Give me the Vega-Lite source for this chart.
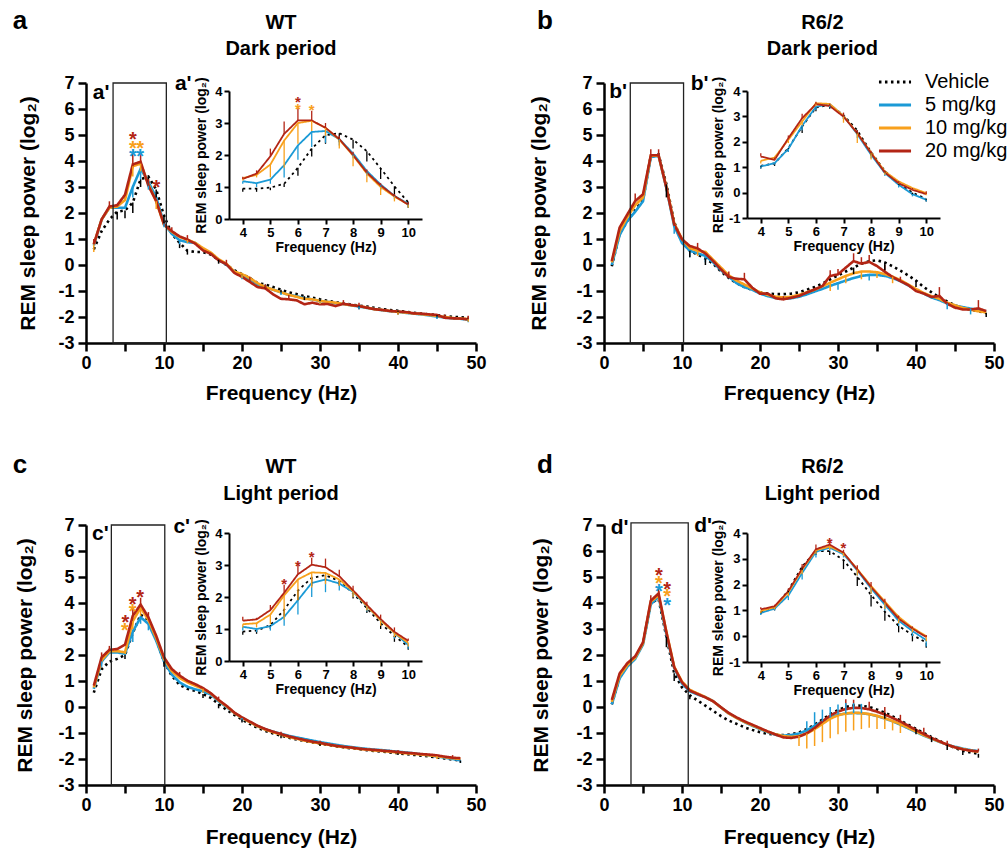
{
"$schema":"https://vega.github.io/schema/vega-lite/v6.json",
"padding":{"left":12,"top":7,"right":5,"bottom":5},
"config":{"font":"Liberation Sans","view":{"stroke":null},
 "axis":{"grid":false,"domainColor":"#000","tickColor":"#000","labelColor":"#000","titleColor":"#000","labelFontWeight":"bold","titleFontWeight":"bold","labelFont":"Liberation Sans","titleFont":"Liberation Sans","labelOverlap":false},
 "legend":{"labelFont":"Liberation Sans"}},
"datasets":{
"aM":[{"f":1,"V":0.6,"A":0.75,"B":0.8,"C":0.8},{"f":2,"V":1.3,"A":1.75,"B":1.75,"C":1.75},{"f":3,"V":1.75,"A":2.2,"B":2.2,"C":2.25},{"f":4,"V":2.05,"A":2.2,"B":2.25,"C":2.3},{"f":5,"V":2.1,"A":2.2,"B":2.5,"C":2.7},{"f":6,"V":2.4,"A":3.0,"B":3.8,"C":3.87},{"f":7,"V":3.3,"A":3.7,"B":3.9,"C":3.97},{"f":8,"V":3.4,"A":3.2,"B":3.1,"C":3.05},{"f":9,"V":2.9,"A":2.6,"B":2.45,"C":2.46},{"f":10,"V":1.9,"A":1.6,"B":1.55,"C":1.56},{"f":11,"V":1.2,"A":1.2,"B":1.28,"C":1.3},{"f":12,"V":0.85,"A":0.95,"B":1.08,"C":1.1},{"f":13,"V":0.55,"A":0.88,"B":0.97,"C":0.98},{"f":14,"V":0.5,"A":0.85,"B":0.85,"C":0.82},{"f":15,"V":0.5,"A":0.6,"B":0.65,"C":0.56},{"f":16,"V":0.4,"A":0.45,"B":0.48,"C":0.43},{"f":17,"V":0.2,"A":0.2,"B":0.22,"C":0.18},{"f":18,"V":0.0,"A":0.02,"B":0.05,"C":0.03},{"f":19,"V":-0.2,"A":-0.25,"B":-0.25,"C":-0.3},{"f":20,"V":-0.35,"A":-0.4,"B":-0.35,"C":-0.46},{"f":21,"V":-0.5,"A":-0.55,"B":-0.5,"C":-0.65},{"f":22,"V":-0.7,"A":-0.75,"B":-0.7,"C":-0.85},{"f":23,"V":-0.75,"A":-0.85,"B":-0.85,"C":-0.9},{"f":24,"V":-0.85,"A":-0.95,"B":-0.95,"C":-1.13},{"f":25,"V":-0.95,"A":-1.05,"B":-1.05,"C":-1.3},{"f":26,"V":-1.05,"A":-1.15,"B":-1.15,"C":-1.32},{"f":27,"V":-1.12,"A":-1.2,"B":-1.22,"C":-1.36},{"f":28,"V":-1.2,"A":-1.28,"B":-1.3,"C":-1.51},{"f":29,"V":-1.25,"A":-1.32,"B":-1.32,"C":-1.45},{"f":30,"V":-1.32,"A":-1.38,"B":-1.38,"C":-1.51},{"f":31,"V":-1.38,"A":-1.42,"B":-1.42,"C":-1.5},{"f":32,"V":-1.43,"A":-1.47,"B":-1.45,"C":-1.58},{"f":33,"V":-1.48,"A":-1.5,"B":-1.5,"C":-1.49},{"f":34,"V":-1.52,"A":-1.55,"B":-1.55,"C":-1.54},{"f":35,"V":-1.56,"A":-1.6,"B":-1.58,"C":-1.58},{"f":36,"V":-1.6,"A":-1.65,"B":-1.64,"C":-1.64},{"f":37,"V":-1.65,"A":-1.7,"B":-1.7,"C":-1.7},{"f":38,"V":-1.7,"A":-1.74,"B":-1.73,"C":-1.73},{"f":39,"V":-1.73,"A":-1.78,"B":-1.77,"C":-1.77},{"f":40,"V":-1.76,"A":-1.8,"B":-1.8,"C":-1.79},{"f":41,"V":-1.8,"A":-1.84,"B":-1.83,"C":-1.81},{"f":42,"V":-1.84,"A":-1.87,"B":-1.86,"C":-1.86},{"f":43,"V":-1.87,"A":-1.9,"B":-1.89,"C":-1.87},{"f":44,"V":-1.9,"A":-1.94,"B":-1.92,"C":-1.9},{"f":45,"V":-1.93,"A":-1.98,"B":-1.96,"C":-1.92},{"f":46,"V":-1.96,"A":-2.02,"B":-2.0,"C":-2.03},{"f":47,"V":-1.99,"A":-2.05,"B":-2.04,"C":-2.05},{"f":48,"V":-2.01,"A":-2.07,"B":-2.06,"C":-2.06},{"f":49,"V":-2.03,"A":-2.1,"B":-2.08,"C":-2.09}],
"bM":[{"f":1,"V":-0.05,"A":0.0,"B":0.1,"C":0.15},{"f":2,"V":1.2,"A":1.15,"B":1.3,"C":1.44},{"f":3,"V":1.7,"A":1.7,"B":1.85,"C":1.95},{"f":4,"V":2.1,"A":2.05,"B":2.3,"C":2.46},{"f":5,"V":2.5,"A":2.45,"B":2.6,"C":2.72},{"f":6,"V":4.2,"A":4.15,"B":4.2,"C":4.22},{"f":7,"V":4.25,"A":4.2,"B":4.2,"C":4.22},{"f":8,"V":3.1,"A":2.95,"B":3.0,"C":2.97},{"f":9,"V":1.65,"A":1.5,"B":1.6,"C":1.56},{"f":10,"V":0.9,"A":0.85,"B":1.0,"C":0.99},{"f":11,"V":0.55,"A":0.55,"B":0.65,"C":0.73},{"f":12,"V":0.4,"A":0.45,"B":0.55,"C":0.64},{"f":13,"V":0.25,"A":0.35,"B":0.5,"C":0.44},{"f":14,"V":0.05,"A":0.1,"B":0.2,"C":0.15},{"f":15,"V":-0.25,"A":-0.2,"B":-0.1,"C":-0.17},{"f":16,"V":-0.5,"A":-0.45,"B":-0.4,"C":-0.46},{"f":17,"V":-0.7,"A":-0.7,"B":-0.6,"C":-0.53},{"f":18,"V":-0.85,"A":-0.85,"B":-0.75,"C":-0.55},{"f":19,"V":-0.95,"A":-0.95,"B":-0.9,"C":-0.87},{"f":20,"V":-1.05,"A":-1.1,"B":-1.05,"C":-1.1},{"f":21,"V":-1.1,"A":-1.2,"B":-1.15,"C":-1.1},{"f":22,"V":-1.12,"A":-1.27,"B":-1.22,"C":-1.28},{"f":23,"V":-1.12,"A":-1.3,"B":-1.25,"C":-1.32},{"f":24,"V":-1.1,"A":-1.28,"B":-1.22,"C":-1.26},{"f":25,"V":-1.05,"A":-1.22,"B":-1.15,"C":-1.19},{"f":26,"V":-0.95,"A":-1.13,"B":-1.05,"C":-1.06},{"f":27,"V":-0.85,"A":-1.02,"B":-0.95,"C":-0.94},{"f":28,"V":-0.72,"A":-0.92,"B":-0.82,"C":-0.81},{"f":29,"V":-0.55,"A":-0.8,"B":-0.68,"C":-0.42},{"f":30,"V":-0.4,"A":-0.7,"B":-0.55,"C":-0.36},{"f":31,"V":-0.25,"A":-0.6,"B":-0.42,"C":-0.1},{"f":32,"V":-0.1,"A":-0.5,"B":-0.32,"C":0.15},{"f":33,"V":0.05,"A":-0.42,"B":-0.25,"C":0.05},{"f":34,"V":0.15,"A":-0.38,"B":-0.25,"C":0.12},{"f":35,"V":0.18,"A":-0.38,"B":-0.28,"C":-0.04},{"f":36,"V":0.1,"A":-0.42,"B":-0.35,"C":-0.26},{"f":37,"V":-0.05,"A":-0.5,"B":-0.45,"C":-0.46},{"f":38,"V":-0.22,"A":-0.62,"B":-0.58,"C":-0.62},{"f":39,"V":-0.4,"A":-0.78,"B":-0.75,"C":-0.77},{"f":40,"V":-0.6,"A":-0.95,"B":-0.92,"C":-1.0},{"f":41,"V":-0.85,"A":-1.1,"B":-1.08,"C":-1.1},{"f":42,"V":-1.05,"A":-1.25,"B":-1.2,"C":-1.23},{"f":43,"V":-1.25,"A":-1.35,"B":-1.3,"C":-1.19},{"f":44,"V":-1.4,"A":-1.48,"B":-1.45,"C":-1.49},{"f":45,"V":-1.55,"A":-1.56,"B":-1.55,"C":-1.64},{"f":46,"V":-1.65,"A":-1.62,"B":-1.65,"C":-1.71},{"f":47,"V":-1.72,"A":-1.68,"B":-1.72,"C":-1.71},{"f":48,"V":-1.78,"A":-1.73,"B":-1.78,"C":-1.67},{"f":49,"V":-1.85,"A":-1.78,"B":-1.82,"C":-1.77}],
"cM":[{"f":1,"V":0.55,"A":0.7,"B":0.75,"C":0.82},{"f":2,"V":1.45,"A":1.75,"B":1.8,"C":1.91},{"f":3,"V":1.75,"A":2.1,"B":2.15,"C":2.2},{"f":4,"V":1.85,"A":2.1,"B":2.15,"C":2.23},{"f":5,"V":2.0,"A":2.05,"B":2.1,"C":2.4},{"f":6,"V":2.85,"A":2.9,"B":3.3,"C":3.51},{"f":7,"V":3.55,"A":3.45,"B":3.82,"C":3.94},{"f":8,"V":3.35,"A":3.2,"B":3.35,"C":3.45},{"f":9,"V":2.6,"A":2.55,"B":2.65,"C":2.74},{"f":10,"V":1.75,"A":1.75,"B":1.85,"C":1.91},{"f":11,"V":1.2,"A":1.25,"B":1.38,"C":1.46},{"f":12,"V":0.85,"A":0.95,"B":1.12,"C":1.21},{"f":13,"V":0.7,"A":0.78,"B":0.95,"C":1.01},{"f":14,"V":0.62,"A":0.68,"B":0.82,"C":0.88},{"f":15,"V":0.5,"A":0.6,"B":0.7,"C":0.73},{"f":16,"V":0.35,"A":0.48,"B":0.52,"C":0.53},{"f":17,"V":0.12,"A":0.22,"B":0.25,"C":0.27},{"f":18,"V":-0.1,"A":0.0,"B":0.03,"C":0.05},{"f":19,"V":-0.3,"A":-0.22,"B":-0.22,"C":-0.21},{"f":20,"V":-0.48,"A":-0.42,"B":-0.42,"C":-0.4},{"f":21,"V":-0.65,"A":-0.58,"B":-0.58,"C":-0.56},{"f":22,"V":-0.8,"A":-0.74,"B":-0.74,"C":-0.72},{"f":23,"V":-0.92,"A":-0.86,"B":-0.87,"C":-0.85},{"f":24,"V":-1.02,"A":-0.95,"B":-0.97,"C":-0.95},{"f":25,"V":-1.1,"A":-1.03,"B":-1.06,"C":-1.04},{"f":26,"V":-1.18,"A":-1.11,"B":-1.15,"C":-1.13},{"f":27,"V":-1.25,"A":-1.17,"B":-1.22,"C":-1.2},{"f":28,"V":-1.3,"A":-1.23,"B":-1.29,"C":-1.27},{"f":29,"V":-1.36,"A":-1.29,"B":-1.35,"C":-1.33},{"f":30,"V":-1.41,"A":-1.35,"B":-1.4,"C":-1.38},{"f":31,"V":-1.46,"A":-1.4,"B":-1.45,"C":-1.44},{"f":32,"V":-1.51,"A":-1.45,"B":-1.5,"C":-1.49},{"f":33,"V":-1.55,"A":-1.5,"B":-1.54,"C":-1.53},{"f":34,"V":-1.59,"A":-1.54,"B":-1.57,"C":-1.56},{"f":35,"V":-1.62,"A":-1.58,"B":-1.61,"C":-1.6},{"f":36,"V":-1.66,"A":-1.61,"B":-1.64,"C":-1.63},{"f":37,"V":-1.69,"A":-1.64,"B":-1.67,"C":-1.65},{"f":38,"V":-1.72,"A":-1.66,"B":-1.69,"C":-1.68},{"f":39,"V":-1.75,"A":-1.69,"B":-1.72,"C":-1.7},{"f":40,"V":-1.78,"A":-1.72,"B":-1.75,"C":-1.73},{"f":41,"V":-1.81,"A":-1.75,"B":-1.78,"C":-1.76},{"f":42,"V":-1.84,"A":-1.78,"B":-1.8,"C":-1.78},{"f":43,"V":-1.87,"A":-1.82,"B":-1.83,"C":-1.81},{"f":44,"V":-1.9,"A":-1.86,"B":-1.86,"C":-1.83},{"f":45,"V":-1.94,"A":-1.9,"B":-1.89,"C":-1.86},{"f":46,"V":-1.98,"A":-1.95,"B":-1.93,"C":-1.91},{"f":47,"V":-2.02,"A":-2.0,"B":-1.97,"C":-1.95},{"f":48,"V":-2.06,"A":-2.05,"B":-2.0,"C":-1.97}],
"dM":[{"f":1,"V":0.1,"A":0.1,"B":0.2,"C":0.27},{"f":2,"V":1.15,"A":1.1,"B":1.2,"C":1.29},{"f":3,"V":1.6,"A":1.55,"B":1.62,"C":1.69},{"f":4,"V":1.9,"A":1.85,"B":1.9,"C":1.95},{"f":5,"V":2.45,"A":2.4,"B":2.45,"C":2.49},{"f":6,"V":4.0,"A":3.95,"B":4.05,"C":4.09},{"f":7,"V":4.15,"A":4.25,"B":4.3,"C":4.37},{"f":8,"V":2.7,"A":2.8,"B":2.9,"C":2.87},{"f":9,"V":1.3,"A":1.5,"B":1.55,"C":1.53},{"f":10,"V":0.75,"A":0.9,"B":0.98,"C":0.95},{"f":11,"V":0.45,"A":0.6,"B":0.66,"C":0.63},{"f":12,"V":0.25,"A":0.48,"B":0.52,"C":0.5},{"f":13,"V":0.05,"A":0.38,"B":0.38,"C":0.37},{"f":14,"V":-0.15,"A":0.22,"B":0.22,"C":0.22},{"f":15,"V":-0.35,"A":-0.02,"B":-0.02,"C":-0.01},{"f":16,"V":-0.52,"A":-0.25,"B":-0.25,"C":-0.23},{"f":17,"V":-0.65,"A":-0.42,"B":-0.42,"C":-0.4},{"f":18,"V":-0.78,"A":-0.58,"B":-0.57,"C":-0.55},{"f":19,"V":-0.88,"A":-0.72,"B":-0.7,"C":-0.68},{"f":20,"V":-0.97,"A":-0.85,"B":-0.83,"C":-0.81},{"f":21,"V":-1.03,"A":-0.97,"B":-0.95,"C":-0.94},{"f":22,"V":-1.07,"A":-1.07,"B":-1.05,"C":-1.06},{"f":23,"V":-1.08,"A":-1.1,"B":-1.12,"C":-1.17},{"f":24,"V":-1.05,"A":-1.08,"B":-1.15,"C":-1.19},{"f":25,"V":-0.98,"A":-1.02,"B":-1.12,"C":-1.14},{"f":26,"V":-0.85,"A":-0.9,"B":-1.02,"C":-1.01},{"f":27,"V":-0.68,"A":-0.72,"B":-0.85,"C":-0.81},{"f":28,"V":-0.48,"A":-0.55,"B":-0.65,"C":-0.55},{"f":29,"V":-0.28,"A":-0.4,"B":-0.45,"C":-0.33},{"f":30,"V":-0.12,"A":-0.3,"B":-0.32,"C":-0.17},{"f":31,"V":0.0,"A":-0.25,"B":-0.25,"C":-0.08},{"f":32,"V":0.06,"A":-0.23,"B":-0.22,"C":-0.03},{"f":33,"V":0.05,"A":-0.24,"B":-0.23,"C":-0.04},{"f":34,"V":0.0,"A":-0.28,"B":-0.27,"C":-0.09},{"f":35,"V":-0.1,"A":-0.35,"B":-0.34,"C":-0.18},{"f":36,"V":-0.22,"A":-0.44,"B":-0.43,"C":-0.29},{"f":37,"V":-0.36,"A":-0.55,"B":-0.54,"C":-0.42},{"f":38,"V":-0.52,"A":-0.68,"B":-0.66,"C":-0.56},{"f":39,"V":-0.68,"A":-0.82,"B":-0.8,"C":-0.72},{"f":40,"V":-0.84,"A":-0.96,"B":-0.94,"C":-0.88},{"f":41,"V":-1.0,"A":-1.1,"B":-1.08,"C":-1.04},{"f":42,"V":-1.16,"A":-1.22,"B":-1.21,"C":-1.19},{"f":43,"V":-1.3,"A":-1.34,"B":-1.33,"C":-1.32},{"f":44,"V":-1.45,"A":-1.45,"B":-1.45,"C":-1.45},{"f":45,"V":-1.58,"A":-1.53,"B":-1.55,"C":-1.55},{"f":46,"V":-1.68,"A":-1.6,"B":-1.62,"C":-1.63},{"f":47,"V":-1.75,"A":-1.66,"B":-1.68,"C":-1.68},{"f":48,"V":-1.8,"A":-1.7,"B":-1.72,"C":-1.71}],
"aE":[{"f":4,"g":"V","p":2.05,"e":1.75},{"f":5,"g":"V","p":2.1,"e":1.8},{"f":6,"g":"V","p":2.4,"e":2.0},{"f":7,"g":"V","p":3.3,"e":3.0},{"f":8,"g":"V","p":3.4,"e":3.05},{"f":9,"g":"V","p":2.9,"e":2.6},{"f":10,"g":"V","p":1.9,"e":1.6},{"f":12,"g":"V","p":0.85,"e":0.65},{"f":13,"g":"V","p":0.55,"e":0.4},{"f":17,"g":"V","p":0.2,"e":0.05},{"f":20,"g":"V","p":-0.35,"e":-0.5},{"f":23,"g":"V","p":-0.75,"e":-0.9},{"f":25,"g":"V","p":-0.95,"e":-1.1},{"f":28,"g":"V","p":-1.2,"e":-1.35},{"f":30,"g":"V","p":-1.32,"e":-1.45},{"f":35,"g":"V","p":-1.56,"e":-1.7},{"f":40,"g":"V","p":-1.76,"e":-1.9},{"f":45,"g":"V","p":-1.93,"e":-2.05},{"f":49,"g":"V","p":-2.03,"e":-2.15},
{"f":6,"g":"A","p":3.0,"e":2.6},{"f":7,"g":"A","p":3.7,"e":3.3},{"f":8,"g":"A","p":3.2,"e":2.9},{"f":10,"g":"A","p":1.6,"e":1.45},{"f":12,"g":"A","p":0.95,"e":0.8},{"f":20,"g":"A","p":-0.4,"e":-0.55},{"f":25,"g":"A","p":-1.05,"e":-1.15},{"f":30,"g":"A","p":-1.38,"e":-1.5},{"f":35,"g":"A","p":-1.6,"e":-1.7},{"f":45,"g":"A","p":-1.98,"e":-2.08},{"f":49,"g":"A","p":-2.1,"e":-2.2},
{"f":1,"g":"B","p":0.8,"e":0.5},{"f":6,"g":"B","p":3.8,"e":3.4},{"f":7,"g":"B","p":3.9,"e":3.6},{"f":9,"g":"B","p":2.45,"e":2.15},{"f":13,"g":"B","p":0.97,"e":0.85},{"f":20,"g":"B","p":-0.35,"e":-0.5},{"f":30,"g":"B","p":-1.38,"e":-1.5},{"f":40,"g":"B","p":-1.8,"e":-1.9},{"f":49,"g":"B","p":-2.08,"e":-2.18},
{"f":1,"g":"C","p":0.8,"e":1.0},{"f":3,"g":"C","p":2.25,"e":2.45},{"f":6,"g":"C","p":3.87,"e":4.4},{"f":7,"g":"C","p":3.97,"e":4.35},{"f":8,"g":"C","p":3.05,"e":3.3},{"f":11,"g":"C","p":1.3,"e":1.45},{"f":13,"g":"C","p":0.98,"e":1.15},{"f":18,"g":"C","p":0.03,"e":0.2},{"f":21,"g":"C","p":-0.65,"e":-0.45},{"f":23,"g":"C","p":-0.9,"e":-0.75},{"f":26,"g":"C","p":-1.32,"e":-1.15},{"f":33,"g":"C","p":-1.49,"e":-1.35},{"f":35,"g":"C","p":-1.58,"e":-1.45},{"f":46,"g":"C","p":-2.03,"e":-1.9},{"f":49,"g":"C","p":-2.09,"e":-1.95}],
"bE":[{"f":4,"g":"C","p":2.46,"e":2.75},{"f":6,"g":"C","p":4.22,"e":4.45},{"f":7,"g":"C","p":4.22,"e":4.45},{"f":12,"g":"C","p":0.64,"e":0.85},{"f":16,"g":"C","p":-0.46,"e":-0.25},{"f":18,"g":"C","p":-0.55,"e":-0.3},{"f":23,"g":"C","p":-1.32,"e":-1.2},{"f":29,"g":"C","p":-0.42,"e":-0.2},{"f":30,"g":"C","p":-0.36,"e":-0.15},{"f":32,"g":"C","p":0.15,"e":0.45},{"f":33,"g":"C","p":0.05,"e":0.3},{"f":34,"g":"C","p":0.12,"e":0.38},{"f":36,"g":"C","p":-0.26,"e":0.0},{"f":38,"g":"C","p":-0.62,"e":-0.45},{"f":43,"g":"C","p":-1.19,"e":-0.85},{"f":48,"g":"C","p":-1.67,"e":-1.35},
{"f":12,"g":"B","p":0.55,"e":0.35},{"f":29,"g":"B","p":-0.68,"e":-1.0},{"f":31,"g":"B","p":-0.42,"e":-0.7},{"f":33,"g":"B","p":-0.25,"e":-0.55},{"f":35,"g":"B","p":-0.28,"e":-0.5},{"f":37,"g":"B","p":-0.45,"e":-0.7},
{"f":9,"g":"A","p":1.5,"e":1.2},{"f":11,"g":"A","p":0.55,"e":0.3},{"f":13,"g":"A","p":0.35,"e":0.1},{"f":30,"g":"A","p":-0.7,"e":-0.95},{"f":34,"g":"A","p":-0.38,"e":-0.6},{"f":44,"g":"A","p":-1.48,"e":-1.7},{"f":47,"g":"A","p":-1.68,"e":-1.9},
{"f":8,"g":"V","p":3.1,"e":2.6},{"f":11,"g":"V","p":0.55,"e":0.3},{"f":13,"g":"V","p":0.25,"e":0.0},{"f":32,"g":"V","p":-0.1,"e":-0.35},{"f":36,"g":"V","p":0.1,"e":-0.2},{"f":40,"g":"V","p":-0.6,"e":-0.85},{"f":49,"g":"V","p":-1.85,"e":-2.0}],
"cE":[{"f":2,"g":"C","p":1.91,"e":2.1},{"f":3,"g":"C","p":2.2,"e":2.35},{"f":6,"g":"C","p":3.51,"e":3.8},{"f":7,"g":"C","p":3.94,"e":4.2},{"f":8,"g":"C","p":3.45,"e":3.65},{"f":12,"g":"C","p":1.21,"e":1.35},{"f":17,"g":"C","p":0.27,"e":0.4},{"f":25,"g":"C","p":-1.04,"e":-0.95},{"f":30,"g":"C","p":-1.38,"e":-1.3},{"f":40,"g":"C","p":-1.73,"e":-1.65},{"f":47,"g":"C","p":-1.95,"e":-1.85},
{"f":6,"g":"B","p":3.3,"e":3.0},{"f":7,"g":"B","p":3.82,"e":3.5},{"f":15,"g":"B","p":0.7,"e":0.55},{"f":30,"g":"B","p":-1.4,"e":-1.5},{"f":45,"g":"B","p":-1.89,"e":-2.0},
{"f":2,"g":"A","p":1.75,"e":1.55},{"f":6,"g":"A","p":2.9,"e":2.5},{"f":7,"g":"A","p":3.45,"e":3.2},{"f":8,"g":"A","p":3.2,"e":2.95},{"f":20,"g":"A","p":-0.42,"e":-0.55},{"f":48,"g":"A","p":-2.05,"e":-2.15},
{"f":5,"g":"V","p":2.0,"e":1.85},{"f":10,"g":"V","p":1.75,"e":1.55},{"f":15,"g":"V","p":0.5,"e":0.35},{"f":17,"g":"V","p":0.12,"e":-0.05},{"f":20,"g":"V","p":-0.48,"e":-0.6},{"f":25,"g":"V","p":-1.1,"e":-1.2},{"f":30,"g":"V","p":-1.41,"e":-1.5},{"f":40,"g":"V","p":-1.78,"e":-1.85},{"f":48,"g":"V","p":-2.06,"e":-2.15}],
"dE":[{"f":6,"g":"C","p":4.09,"e":4.3},{"f":7,"g":"C","p":4.37,"e":4.55},{"f":31,"g":"C","p":-0.08,"e":0.3},{"f":32,"g":"C","p":-0.03,"e":0.28},{"f":34,"g":"C","p":-0.09,"e":0.2},{"f":36,"g":"C","p":-0.29,"e":0.0},{"f":38,"g":"C","p":-0.56,"e":-0.3},{"f":41,"g":"C","p":-1.04,"e":-0.8},{"f":44,"g":"C","p":-1.45,"e":-1.3},{"f":48,"g":"C","p":-1.71,"e":-1.6},
{"f":25,"g":"B","p":-1.12,"e":-1.5},{"f":26,"g":"B","p":-1.02,"e":-1.6},{"f":27,"g":"B","p":-0.85,"e":-1.5},{"f":28,"g":"B","p":-0.65,"e":-1.35},{"f":29,"g":"B","p":-0.45,"e":-1.2},{"f":30,"g":"B","p":-0.32,"e":-1.05},{"f":31,"g":"B","p":-0.25,"e":-0.95},{"f":32,"g":"B","p":-0.22,"e":-0.9},{"f":33,"g":"B","p":-0.23,"e":-0.85},{"f":34,"g":"B","p":-0.27,"e":-0.8},{"f":35,"g":"B","p":-0.34,"e":-0.85},{"f":36,"g":"B","p":-0.43,"e":-0.85},{"f":37,"g":"B","p":-0.54,"e":-0.9},{"f":38,"g":"B","p":-0.66,"e":-1.0},
{"f":26,"g":"A","p":-0.9,"e":-0.55},{"f":27,"g":"A","p":-0.72,"e":-0.2},{"f":28,"g":"A","p":-0.55,"e":-0.1},{"f":29,"g":"A","p":-0.4,"e":0.0},{"f":30,"g":"A","p":-0.3,"e":0.1},{"f":31,"g":"A","p":-0.25,"e":0.15},{"f":32,"g":"A","p":-0.23,"e":0.15},{"f":33,"g":"A","p":-0.24,"e":0.12},
{"f":8,"g":"V","p":2.7,"e":2.3},{"f":9,"g":"V","p":1.3,"e":1.0},{"f":11,"g":"V","p":0.45,"e":0.3},{"f":36,"g":"V","p":-0.22,"e":-0.45},{"f":40,"g":"V","p":-0.84,"e":-1.05},{"f":42,"g":"V","p":-1.16,"e":-1.35},{"f":44,"g":"V","p":-1.45,"e":-1.65},{"f":46,"g":"V","p":-1.68,"e":-1.85},{"f":48,"g":"V","p":-1.8,"e":-1.95}],
"aI":[{"f":4,"g":"V","p":0.95,"e":0.85},{"f":4.5,"g":"V","p":0.95,"e":0.85},{"f":5,"g":"V","p":0.98,"e":0.9},{"f":5.5,"g":"V","p":1.1,"e":1.0},{"f":6,"g":"V","p":1.6,"e":1.35},{"f":6.5,"g":"V","p":2.2,"e":1.95},{"f":7,"g":"V","p":2.62,"e":2.35},{"f":7.5,"g":"V","p":2.68,"e":2.4},{"f":8,"g":"V","p":2.48,"e":2.2},{"f":8.5,"g":"V","p":2.12,"e":1.8},{"f":9,"g":"V","p":1.58,"e":1.25},{"f":9.5,"g":"V","p":1.02,"e":0.75},{"f":10,"g":"V","p":0.52,"e":0.35},
{"f":4,"g":"A","p":1.18,"e":1.1},{"f":4.5,"g":"A","p":1.12,"e":1.0},{"f":5,"g":"A","p":1.23,"e":1.1},{"f":5.5,"g":"A","p":1.68,"e":1.3},{"f":6,"g":"A","p":2.3,"e":1.85},{"f":6.5,"g":"A","p":2.72,"e":2.25},{"f":7,"g":"A","p":2.75,"e":2.38},{"f":7.5,"g":"A","p":2.5,"e":2.3},{"f":8,"g":"A","p":2.05,"e":1.9},{"f":8.5,"g":"A","p":1.5,"e":1.35},{"f":9,"g":"A","p":1.08,"e":0.9},{"f":9.5,"g":"A","p":0.72,"e":0.62},{"f":10,"g":"A","p":0.48,"e":0.35},
{"f":4,"g":"B","p":1.28,"e":1.2},{"f":4.5,"g":"B","p":1.38,"e":1.3},{"f":5,"g":"B","p":1.7,"e":1.3},{"f":5.5,"g":"B","p":2.45,"e":1.6},{"f":6,"g":"B","p":3.0,"e":2.35},{"f":6.5,"g":"B","p":3.07,"e":2.75},{"f":7,"g":"B","p":2.85,"e":2.6},{"f":7.5,"g":"B","p":2.48,"e":2.2},{"f":8,"g":"B","p":1.98,"e":1.65},{"f":8.5,"g":"B","p":1.42,"e":1.15},{"f":9,"g":"B","p":1.0,"e":0.75},{"f":9.5,"g":"B","p":0.7,"e":0.55},{"f":10,"g":"B","p":0.45,"e":0.35},
{"f":4,"g":"C","p":1.25,"e":1.32},{"f":4.5,"g":"C","p":1.42,"e":1.52},{"f":5,"g":"C","p":1.96,"e":2.2},{"f":5.5,"g":"C","p":2.66,"e":3.05},{"f":6,"g":"C","p":3.08,"e":3.5},{"f":6.5,"g":"C","p":3.08,"e":3.38},{"f":7,"g":"C","p":2.85,"e":3.0},{"f":7.5,"g":"C","p":2.5,"e":2.6},{"f":8,"g":"C","p":2.0,"e":2.1},{"f":8.5,"g":"C","p":1.45,"e":1.55},{"f":9,"g":"C","p":1.05,"e":1.12},{"f":9.5,"g":"C","p":0.72,"e":0.78},{"f":10,"g":"C","p":0.45,"e":0.52}],
"bI":[{"f":4,"g":"V","p":1.05,"e":0.95},{"f":4.5,"g":"V","p":1.15,"e":1.05},{"f":5,"g":"V","p":1.75,"e":1.6},{"f":5.5,"g":"V","p":2.6,"e":2.35},{"f":6,"g":"V","p":3.35,"e":3.2},{"f":6.5,"g":"V","p":3.45,"e":3.3},{"f":7,"g":"V","p":3.05,"e":2.9},{"f":7.5,"g":"V","p":2.45,"e":2.3},{"f":8,"g":"V","p":1.6,"e":1.45},{"f":8.5,"g":"V","p":0.85,"e":0.75},{"f":9,"g":"V","p":0.35,"e":0.25},{"f":9.5,"g":"V","p":0.0,"e":-0.1},{"f":10,"g":"V","p":-0.25,"e":-0.35},
{"f":4,"g":"A","p":1.03,"e":0.95},{"f":4.5,"g":"A","p":1.16,"e":1.1},{"f":5,"g":"A","p":1.72,"e":1.6},{"f":5.5,"g":"A","p":2.63,"e":2.45},{"f":6,"g":"A","p":3.38,"e":3.25},{"f":6.5,"g":"A","p":3.48,"e":3.35},{"f":7,"g":"A","p":3.02,"e":2.9},{"f":7.5,"g":"A","p":2.3,"e":2.15},{"f":8,"g":"A","p":1.49,"e":1.35},{"f":8.5,"g":"A","p":0.77,"e":0.65},{"f":9,"g":"A","p":0.31,"e":0.2},{"f":9.5,"g":"A","p":-0.06,"e":-0.15},{"f":10,"g":"A","p":-0.28,"e":-0.35},
{"f":4,"g":"B","p":1.25,"e":1.15},{"f":4.5,"g":"B","p":1.38,"e":1.3},{"f":5,"g":"B","p":2.08,"e":1.95},{"f":5.5,"g":"B","p":2.8,"e":2.65},{"f":6,"g":"B","p":3.52,"e":3.4},{"f":6.5,"g":"B","p":3.49,"e":3.4},{"f":7,"g":"B","p":3.02,"e":2.75},{"f":7.5,"g":"B","p":2.34,"e":1.95},{"f":8,"g":"B","p":1.58,"e":1.3},{"f":8.5,"g":"B","p":0.83,"e":0.7},{"f":9,"g":"B","p":0.44,"e":0.35},{"f":9.5,"g":"B","p":0.18,"e":0.1},{"f":10,"g":"B","p":-0.02,"e":-0.1},
{"f":4,"g":"C","p":1.42,"e":1.55},{"f":4.5,"g":"C","p":1.29,"e":1.38},{"f":5,"g":"C","p":2.14,"e":2.25},{"f":5.5,"g":"C","p":2.93,"e":3.1},{"f":6,"g":"C","p":3.48,"e":3.58},{"f":6.5,"g":"C","p":3.41,"e":3.5},{"f":7,"g":"C","p":2.99,"e":3.15},{"f":7.5,"g":"C","p":2.34,"e":2.45},{"f":8,"g":"C","p":1.55,"e":1.65},{"f":8.5,"g":"C","p":0.79,"e":0.88},{"f":9,"g":"C","p":0.37,"e":0.45},{"f":9.5,"g":"C","p":0.11,"e":0.18},{"f":10,"g":"C","p":-0.06,"e":0.05}],
"cI":[{"f":4,"g":"V","p":0.92,"e":0.82},{"f":4.5,"g":"V","p":0.95,"e":0.85},{"f":5,"g":"V","p":1.12,"e":1.0},{"f":5.5,"g":"V","p":1.6,"e":1.4},{"f":6,"g":"V","p":2.2,"e":1.9},{"f":6.5,"g":"V","p":2.6,"e":2.35},{"f":7,"g":"V","p":2.68,"e":2.5},{"f":7.5,"g":"V","p":2.5,"e":2.35},{"f":8,"g":"V","p":2.12,"e":1.95},{"f":8.5,"g":"V","p":1.65,"e":1.5},{"f":9,"g":"V","p":1.18,"e":1.0},{"f":9.5,"g":"V","p":0.78,"e":0.6},{"f":10,"g":"V","p":0.45,"e":0.35},
{"f":4,"g":"A","p":1.07,"e":0.95},{"f":4.5,"g":"A","p":1.0,"e":0.9},{"f":5,"g":"A","p":1.09,"e":0.95},{"f":5.5,"g":"A","p":1.38,"e":1.1},{"f":6,"g":"A","p":1.9,"e":1.45},{"f":6.5,"g":"A","p":2.44,"e":2.0},{"f":7,"g":"A","p":2.55,"e":2.15},{"f":7.5,"g":"A","p":2.42,"e":2.2},{"f":8,"g":"A","p":2.16,"e":2.0},{"f":8.5,"g":"A","p":1.71,"e":1.55},{"f":9,"g":"A","p":1.28,"e":1.15},{"f":9.5,"g":"A","p":0.88,"e":0.7},{"f":10,"g":"A","p":0.5,"e":0.38},
{"f":4,"g":"B","p":1.15,"e":1.05},{"f":4.5,"g":"B","p":1.18,"e":1.05},{"f":5,"g":"B","p":1.45,"e":1.15},{"f":5.5,"g":"B","p":2.05,"e":1.3},{"f":6,"g":"B","p":2.55,"e":1.9},{"f":6.5,"g":"B","p":2.77,"e":2.3},{"f":7,"g":"B","p":2.75,"e":2.4},{"f":7.5,"g":"B","p":2.55,"e":2.35},{"f":8,"g":"B","p":2.18,"e":2.0},{"f":8.5,"g":"B","p":1.72,"e":1.58},{"f":9,"g":"B","p":1.27,"e":1.1},{"f":9.5,"g":"B","p":0.88,"e":0.75},{"f":10,"g":"B","p":0.57,"e":0.45},
{"f":4,"g":"C","p":1.26,"e":1.38},{"f":4.5,"g":"C","p":1.3,"e":1.35},{"f":5,"g":"C","p":1.59,"e":1.75},{"f":5.5,"g":"C","p":2.13,"e":2.38},{"f":6,"g":"C","p":2.71,"e":3.0},{"f":6.5,"g":"C","p":3.01,"e":3.23},{"f":7,"g":"C","p":2.93,"e":3.2},{"f":7.5,"g":"C","p":2.65,"e":2.85},{"f":8,"g":"C","p":2.21,"e":2.35},{"f":8.5,"g":"C","p":1.75,"e":1.85},{"f":9,"g":"C","p":1.31,"e":1.45},{"f":9.5,"g":"C","p":0.91,"e":1.05},{"f":10,"g":"C","p":0.63,"e":0.7}],
"dI":[{"f":4,"g":"V","p":0.95,"e":0.85},{"f":4.5,"g":"V","p":1.1,"e":1.0},{"f":5,"g":"V","p":1.78,"e":1.65},{"f":5.5,"g":"V","p":2.7,"e":2.55},{"f":6,"g":"V","p":3.3,"e":3.15},{"f":6.5,"g":"V","p":3.3,"e":3.15},{"f":7,"g":"V","p":2.95,"e":2.6},{"f":7.5,"g":"V","p":2.3,"e":1.95},{"f":8,"g":"V","p":1.6,"e":1.15},{"f":8.5,"g":"V","p":0.95,"e":0.6},{"f":9,"g":"V","p":0.4,"e":0.15},{"f":9.5,"g":"V","p":0.05,"e":-0.2},{"f":10,"g":"V","p":-0.25,"e":-0.45},
{"f":4,"g":"A","p":0.9,"e":0.82},{"f":4.5,"g":"A","p":1.07,"e":1.0},{"f":5,"g":"A","p":1.58,"e":1.4},{"f":5.5,"g":"A","p":2.45,"e":2.2},{"f":6,"g":"A","p":3.27,"e":3.05},{"f":6.5,"g":"A","p":3.43,"e":3.3},{"f":7,"g":"A","p":3.18,"e":3.05},{"f":7.5,"g":"A","p":2.55,"e":2.35},{"f":8,"g":"A","p":1.85,"e":1.65},{"f":8.5,"g":"A","p":1.22,"e":1.0},{"f":9,"g":"A","p":0.6,"e":0.4},{"f":9.5,"g":"A","p":0.2,"e":0.0},{"f":10,"g":"A","p":-0.15,"e":-0.4},
{"f":4,"g":"B","p":0.98,"e":0.9},{"f":4.5,"g":"B","p":1.12,"e":1.05},{"f":5,"g":"B","p":1.7,"e":1.55},{"f":5.5,"g":"B","p":2.58,"e":2.4},{"f":6,"g":"B","p":3.33,"e":3.2},{"f":6.5,"g":"B","p":3.48,"e":3.35},{"f":7,"g":"B","p":3.22,"e":3.1},{"f":7.5,"g":"B","p":2.6,"e":2.35},{"f":8,"g":"B","p":1.95,"e":1.65},{"f":8.5,"g":"B","p":1.35,"e":1.05},{"f":9,"g":"B","p":0.75,"e":0.5},{"f":9.5,"g":"B","p":0.33,"e":0.15},{"f":10,"g":"B","p":0.0,"e":-0.2},
{"f":4,"g":"C","p":1.04,"e":1.12},{"f":4.5,"g":"C","p":1.16,"e":1.22},{"f":5,"g":"C","p":1.75,"e":1.85},{"f":5.5,"g":"C","p":2.62,"e":2.8},{"f":6,"g":"C","p":3.37,"e":3.55},{"f":6.5,"g":"C","p":3.55,"e":3.65},{"f":7,"g":"C","p":3.24,"e":3.35},{"f":7.5,"g":"C","p":2.58,"e":2.75},{"f":8,"g":"C","p":1.91,"e":2.1},{"f":8.5,"g":"C","p":1.3,"e":1.45},{"f":9,"g":"C","p":0.68,"e":0.8},{"f":9.5,"g":"C","p":0.29,"e":0.38},{"f":10,"g":"C","p":-0.03,"e":0.05}]
},
"columns":2,
"spacing":{"row":182,"column":128},
"bounds":"flush",
"concat":[
{"width":390,"height":260,"resolve":{"scale":{"x":"independent","y":"independent"}},
 "layer":[
  {"encoding":{"x":{"field":"f","type":"quantitative","scale":{"domain":[0,50],"nice":false,"zero":false},
      "axis":{"title":"Frequency (Hz)","values":[0,5,10,15,20,25,30,35,40,45,50],"labelExpr":"datum.value % 10 == 0 ? '' + datum.value : ''","labelFontSize":18,"titleFontSize":21,"domainWidth":2.5,"tickWidth":2.5,"tickSize":8,"labelPadding":3,"titlePadding":10,"labelFlush":false,"labelOverlap":false}},
     "y":{"field":"p","type":"quantitative","scale":{"domain":[-3,7],"nice":false,"zero":false},
      "axis":{"title":"REM sleep power (log₂)","values":[-3,-2,-1,0,1,2,3,4,5,6,7],"labelExpr":"'' + datum.value","labelFontSize":18,"titleFontSize":21,"domainWidth":2.5,"tickWidth":2.5,"tickSize":8,"labelPadding":4,"titlePadding":19,"labelOverlap":false,"labelBound":false}}},
   "layer":[
   {"data":{"name":"aM"},"transform":[{"fold":["V","A","B","C"],"as":["g","p"]}],"mark":{"type":"line","strokeWidth":2.6},
    "encoding":{
     "color":{"field":"g","type":"nominal","scale":{"domain":["V","A","B","C"],"range":["#000000","#1b9ad6","#f8a01c","#b32515"]},
      "legend":{"orient":"none","legendX":796,"legendY":-14,"title":null,"labelExpr":"datum.label == 'V' ? 'Vehicle' : datum.label == 'A' ? '5 mg/kg' : datum.label == 'B' ? '10 mg/kg' : '20 mg/kg'","labelFontSize":20,"labelColor":"#000","symbolType":"M-1.4,0H1.4","symbolSize":525,"symbolStrokeWidth":3,"rowPadding":-2,"labelOffset":17,"padding":0}},
     "strokeDash":{"field":"g","type":"nominal","scale":{"domain":["V","A","B","C"],"range":[[2.5,3.5],[1,0],[1,0],[1,0]]},
      "legend":{"orient":"none","legendX":796,"legendY":-14,"title":null,"labelExpr":"datum.label == 'V' ? 'Vehicle' : datum.label == 'A' ? '5 mg/kg' : datum.label == 'B' ? '10 mg/kg' : '20 mg/kg'","labelFontSize":20,"labelColor":"#000","symbolType":"M-1.4,0H1.4","symbolSize":525,"symbolStrokeWidth":3,"rowPadding":-2,"labelOffset":17,"padding":0}}}},
   {"data":{"values":[{"f":3.47,"f2":10.3,"p":-3,"top":7}]},"mark":{"type":"rect","filled":false,"stroke":"#222","strokeWidth":1.3},
    "encoding":{"x2":{"field":"f2"},"y2":{"field":"top"}}},
   {"data":{"name":"aE"},"mark":{"type":"rule","strokeWidth":1.5},
    "encoding":{"y2":{"field":"e"},"color":{"field":"g","type":"nominal","scale":{"domain":["V","A","B","C"],"range":["#000000","#1b9ad6","#f8a01c","#b32515"]}}}},
   {"data":{"values":[{"f":6,"p":5.03,"g":"C"},{"f":6,"p":4.7,"g":"B"},{"f":6.94,"p":4.7,"g":"B"},{"f":6,"p":4.38,"g":"A"},{"f":6.94,"p":4.38,"g":"A"},{"f":9.04,"p":3.19,"g":"C"}]},
    "mark":{"type":"text","text":"*","fontSize":20,"fontWeight":"bold","baseline":"alphabetic","dy":12},
    "encoding":{"color":{"field":"g","type":"nominal","scale":{"domain":["V","A","B","C"],"range":["#000000","#1b9ad6","#f8a01c","#b32515"]}}}},
   {"data":{"values":[{"f":-9.4,"p":9.08,"t":"a"}]},"mark":{"type":"text","fontSize":26,"fontWeight":"bold","align":"left","baseline":"alphabetic"},
    "encoding":{"text":{"field":"t","type":"nominal"}}},
   {"data":{"values":[{"f":25,"p":9.08,"t":"WT"},{"f":25,"p":8.06,"t":"Dark period"}]},"mark":{"type":"text","fontSize":20,"fontWeight":"bold","align":"center","baseline":"alphabetic"},
    "encoding":{"text":{"field":"t","type":"nominal"}}},
   {"data":{"values":[{"f":1.93,"p":6.63,"t":"a'"},{"f":12.47,"p":6.95,"t":"a'"}]},"mark":{"type":"text","fontSize":21,"fontWeight":"bold","align":"center","baseline":"middle"},
    "encoding":{"text":{"field":"t","type":"nominal"}}}
  ]},
  {"encoding":{"x":{"field":"f","type":"quantitative","scale":{"domain":[3.5,10.5],"range":[143,336],"nice":false,"zero":false},
      "axis":{"orient":"bottom","offset":-124,"title":"Frequency (Hz)","values":[4,5,6,7,8,9,10],"labelExpr":"'' + datum.value","labelFontSize":13,"titleFontSize":14,"domainWidth":2,"tickWidth":2,"tickSize":5,"labelPadding":2,"titlePadding":1,"labelFlush":false,"labelOverlap":false}},
     "y":{"field":"p","type":"quantitative","scale":{"domain":[0,4],"range":[136,8],"nice":false,"zero":false},
      "axis":{"orient":"left","offset":-143,"title":"REM sleep power (log₂)","values":[0,1,2,3,4],"labelExpr":"'' + datum.value","labelFontSize":13,"titleFontSize":14,"domainWidth":2,"tickWidth":2,"tickSize":5,"labelPadding":2,"titlePadding":6,"labelOverlap":false}}},
   "layer":[
   {"data":{"name":"aI"},"mark":{"type":"line","strokeWidth":1.8},
    "encoding":{"color":{"field":"g","type":"nominal","scale":{"domain":["V","A","B","C"],"range":["#000000","#1b9ad6","#f8a01c","#b32515"]}},
     "strokeDash":{"field":"g","type":"nominal","scale":{"domain":["V","A","B","C"],"range":[[2.5,3.5],[1,0],[1,0],[1,0]]}}}},
   {"data":{"name":"aI"},"mark":{"type":"rule","strokeWidth":1.3},
    "encoding":{"y2":{"field":"e"},"color":{"field":"g","type":"nominal","scale":{"domain":["V","A","B","C"],"range":["#000000","#1b9ad6","#f8a01c","#b32515"]}}}},
   {"data":{"values":[{"f":6,"p":3.78,"g":"C"},{"f":6,"p":3.55,"g":"B"},{"f":6.5,"p":3.52,"g":"B"}]},
    "mark":{"type":"text","text":"*","fontSize":15,"fontWeight":"bold","baseline":"alphabetic","dy":9},
    "encoding":{"color":{"field":"g","type":"nominal","scale":{"domain":["V","A","B","C"],"range":["#000000","#1b9ad6","#f8a01c","#b32515"]}}}}
  ]}
 ]},
{"width":390,"height":260,"resolve":{"scale":{"x":"independent","y":"independent"}},
 "layer":[
  {"encoding":{"x":{"field":"f","type":"quantitative","scale":{"domain":[0,50],"nice":false,"zero":false},
      "axis":{"title":"Frequency (Hz)","values":[0,5,10,15,20,25,30,35,40,45,50],"labelExpr":"datum.value % 10 == 0 ? '' + datum.value : ''","labelFontSize":18,"titleFontSize":21,"domainWidth":2.5,"tickWidth":2.5,"tickSize":8,"labelPadding":3,"titlePadding":10,"labelFlush":false,"labelOverlap":false}},
     "y":{"field":"p","type":"quantitative","scale":{"domain":[-3,7],"nice":false,"zero":false},
      "axis":{"title":"REM sleep power (log₂)","values":[-3,-2,-1,0,1,2,3,4,5,6,7],"labelExpr":"'' + datum.value","labelFontSize":18,"titleFontSize":21,"domainWidth":2.5,"tickWidth":2.5,"tickSize":8,"labelPadding":4,"titlePadding":26,"labelOverlap":false,"labelBound":false}}},
   "layer":[
   {"data":{"name":"bM"},"transform":[{"fold":["V","A","B","C"],"as":["g","p"]}],"mark":{"type":"line","strokeWidth":2.6},
    "encoding":{"color":{"field":"g","type":"nominal","scale":{"domain":["V","A","B","C"],"range":["#000000","#1b9ad6","#f8a01c","#b32515"]}},
     "strokeDash":{"field":"g","type":"nominal","scale":{"domain":["V","A","B","C"],"range":[[2.5,3.5],[1,0],[1,0],[1,0]]}}}},
   {"data":{"values":[{"f":3.37,"f2":10.2,"p":-3,"top":7}]},"mark":{"type":"rect","filled":false,"stroke":"#222","strokeWidth":1.3},
    "encoding":{"x2":{"field":"f2"},"y2":{"field":"top"}}},
   {"data":{"name":"bE"},"mark":{"type":"rule","strokeWidth":1.5},
    "encoding":{"y2":{"field":"e"},"color":{"field":"g","type":"nominal","scale":{"domain":["V","A","B","C"],"range":["#000000","#1b9ad6","#f8a01c","#b32515"]}}}},
   {"data":{"values":[{"f":-8.6,"p":9.08,"t":"b"}]},"mark":{"type":"text","fontSize":26,"fontWeight":"bold","align":"left","baseline":"alphabetic"},
    "encoding":{"text":{"field":"t","type":"nominal"}}},
   {"data":{"values":[{"f":28,"p":9.08,"t":"R6/2"},{"f":28,"p":8.06,"t":"Dark period"}]},"mark":{"type":"text","fontSize":20,"fontWeight":"bold","align":"center","baseline":"alphabetic"},
    "encoding":{"text":{"field":"t","type":"nominal"}}},
   {"data":{"values":[{"f":1.8,"p":6.67,"t":"b'"},{"f":12.26,"p":6.95,"t":"b'"}]},"mark":{"type":"text","fontSize":21,"fontWeight":"bold","align":"center","baseline":"middle"},
    "encoding":{"text":{"field":"t","type":"nominal"}}}
  ]},
  {"encoding":{"x":{"field":"f","type":"quantitative","scale":{"domain":[3.5,10.5],"range":[143,336],"nice":false,"zero":false},
      "axis":{"orient":"bottom","offset":-125,"title":"Frequency (Hz)","values":[4,5,6,7,8,9,10],"labelExpr":"'' + datum.value","labelFontSize":13,"titleFontSize":14,"domainWidth":2,"tickWidth":2,"tickSize":5,"labelPadding":2,"titlePadding":1,"labelFlush":false,"labelOverlap":false}},
     "y":{"field":"p","type":"quantitative","scale":{"domain":[-1,4],"range":[135,8],"nice":false,"zero":false},
      "axis":{"orient":"left","offset":-143,"title":"REM sleep power (log₂)","values":[-1,0,1,2,3,4],"labelExpr":"'' + datum.value","labelFontSize":13,"titleFontSize":14,"domainWidth":2,"tickWidth":2,"tickSize":5,"labelPadding":2,"titlePadding":3,"labelOverlap":false}}},
   "layer":[
   {"data":{"name":"bI"},"mark":{"type":"line","strokeWidth":1.8},
    "encoding":{"color":{"field":"g","type":"nominal","scale":{"domain":["V","A","B","C"],"range":["#000000","#1b9ad6","#f8a01c","#b32515"]}},
     "strokeDash":{"field":"g","type":"nominal","scale":{"domain":["V","A","B","C"],"range":[[2.5,3.5],[1,0],[1,0],[1,0]]}}}},
   {"data":{"name":"bI"},"mark":{"type":"rule","strokeWidth":1.3},
    "encoding":{"y2":{"field":"e"},"color":{"field":"g","type":"nominal","scale":{"domain":["V","A","B","C"],"range":["#000000","#1b9ad6","#f8a01c","#b32515"]}}}}
  ]}
 ]},
{"width":390,"height":260,"resolve":{"scale":{"x":"independent","y":"independent"}},
 "layer":[
  {"encoding":{"x":{"field":"f","type":"quantitative","scale":{"domain":[0,50],"nice":false,"zero":false},
      "axis":{"title":"Frequency (Hz)","values":[0,5,10,15,20,25,30,35,40,45,50],"labelExpr":"datum.value % 10 == 0 ? '' + datum.value : ''","labelFontSize":18,"titleFontSize":21,"domainWidth":2.5,"tickWidth":2.5,"tickSize":8,"labelPadding":3,"titlePadding":12,"labelFlush":false,"labelOverlap":false}},
     "y":{"field":"p","type":"quantitative","scale":{"domain":[-3,7],"nice":false,"zero":false},
      "axis":{"title":"REM sleep power (log₂)","values":[-3,-2,-1,0,1,2,3,4,5,6,7],"labelExpr":"'' + datum.value","labelFontSize":18,"titleFontSize":21,"domainWidth":2.5,"tickWidth":2.5,"tickSize":8,"labelPadding":4,"titlePadding":22,"labelOverlap":false,"labelBound":false}}},
   "layer":[
   {"data":{"name":"cM"},"transform":[{"fold":["V","A","B","C"],"as":["g","p"]}],"mark":{"type":"line","strokeWidth":2.6},
    "encoding":{"color":{"field":"g","type":"nominal","scale":{"domain":["V","A","B","C"],"range":["#000000","#1b9ad6","#f8a01c","#b32515"]}},
     "strokeDash":{"field":"g","type":"nominal","scale":{"domain":["V","A","B","C"],"range":[[2.5,3.5],[1,0],[1,0],[1,0]]}}}},
   {"data":{"values":[{"f":3.25,"f2":10.1,"p":-3,"top":7}]},"mark":{"type":"rect","filled":false,"stroke":"#222","strokeWidth":1.3},
    "encoding":{"x2":{"field":"f2"},"y2":{"field":"top"}}},
   {"data":{"name":"cE"},"mark":{"type":"rule","strokeWidth":1.5},
    "encoding":{"y2":{"field":"e"},"color":{"field":"g","type":"nominal","scale":{"domain":["V","A","B","C"],"range":["#000000","#1b9ad6","#f8a01c","#b32515"]}}}},
   {"data":{"values":[{"f":5.05,"p":3.45,"g":"C"},{"f":4.97,"p":3.17,"g":"B"},{"f":5.99,"p":4.15,"g":"C"},{"f":5.99,"p":3.9,"g":"B"},{"f":6.93,"p":4.41,"g":"C"}]},
    "mark":{"type":"text","text":"*","fontSize":20,"fontWeight":"bold","baseline":"alphabetic","dy":12},
    "encoding":{"color":{"field":"g","type":"nominal","scale":{"domain":["V","A","B","C"],"range":["#000000","#1b9ad6","#f8a01c","#b32515"]}}}},
   {"data":{"values":[{"f":-9.4,"p":9.01,"t":"c"}]},"mark":{"type":"text","fontSize":26,"fontWeight":"bold","align":"left","baseline":"alphabetic"},
    "encoding":{"text":{"field":"t","type":"nominal"}}},
   {"data":{"values":[{"f":25,"p":9.01,"t":"WT"},{"f":25,"p":7.97,"t":"Light period"}]},"mark":{"type":"text","fontSize":20,"fontWeight":"bold","align":"center","baseline":"alphabetic"},
    "encoding":{"text":{"field":"t","type":"nominal"}}},
   {"data":{"values":[{"f":1.84,"p":6.65,"t":"c'"},{"f":12.28,"p":6.93,"t":"c'"}]},"mark":{"type":"text","fontSize":21,"fontWeight":"bold","align":"center","baseline":"middle"},
    "encoding":{"text":{"field":"t","type":"nominal"}}}
  ]},
  {"encoding":{"x":{"field":"f","type":"quantitative","scale":{"domain":[3.5,10.5],"range":[143,336],"nice":false,"zero":false},
      "axis":{"orient":"bottom","offset":-124,"title":"Frequency (Hz)","values":[4,5,6,7,8,9,10],"labelExpr":"'' + datum.value","labelFontSize":13,"titleFontSize":14,"domainWidth":2,"tickWidth":2,"tickSize":5,"labelPadding":2,"titlePadding":1,"labelFlush":false,"labelOverlap":false}},
     "y":{"field":"p","type":"quantitative","scale":{"domain":[0,4],"range":[136,8],"nice":false,"zero":false},
      "axis":{"orient":"left","offset":-143,"title":"REM sleep power (log₂)","values":[0,1,2,3,4],"labelExpr":"'' + datum.value","labelFontSize":13,"titleFontSize":14,"domainWidth":2,"tickWidth":2,"tickSize":5,"labelPadding":2,"titlePadding":6,"labelOverlap":false}}},
   "layer":[
   {"data":{"name":"cI"},"mark":{"type":"line","strokeWidth":1.8},
    "encoding":{"color":{"field":"g","type":"nominal","scale":{"domain":["V","A","B","C"],"range":["#000000","#1b9ad6","#f8a01c","#b32515"]}},
     "strokeDash":{"field":"g","type":"nominal","scale":{"domain":["V","A","B","C"],"range":[[2.5,3.5],[1,0],[1,0],[1,0]]}}}},
   {"data":{"name":"cI"},"mark":{"type":"rule","strokeWidth":1.3},
    "encoding":{"y2":{"field":"e"},"color":{"field":"g","type":"nominal","scale":{"domain":["V","A","B","C"],"range":["#000000","#1b9ad6","#f8a01c","#b32515"]}}}},
   {"data":{"values":[{"f":5.5,"p":2.54,"g":"C"},{"f":6,"p":3.1,"g":"C"},{"f":6.5,"p":3.38,"g":"C"}]},
    "mark":{"type":"text","text":"*","fontSize":15,"fontWeight":"bold","baseline":"alphabetic","dy":9},
    "encoding":{"color":{"field":"g","type":"nominal","scale":{"domain":["V","A","B","C"],"range":["#000000","#1b9ad6","#f8a01c","#b32515"]}}}}
  ]}
 ]},
{"width":390,"height":260,"resolve":{"scale":{"x":"independent","y":"independent"}},
 "layer":[
  {"encoding":{"x":{"field":"f","type":"quantitative","scale":{"domain":[0,50],"nice":false,"zero":false},
      "axis":{"title":"Frequency (Hz)","values":[0,5,10,15,20,25,30,35,40,45,50],"labelExpr":"datum.value % 10 == 0 ? '' + datum.value : ''","labelFontSize":18,"titleFontSize":21,"domainWidth":2.5,"tickWidth":2.5,"tickSize":8,"labelPadding":3,"titlePadding":12,"labelFlush":false,"labelOverlap":false}},
     "y":{"field":"p","type":"quantitative","scale":{"domain":[-3,7],"nice":false,"zero":false},
      "axis":{"title":"REM sleep power (log₂)","values":[-3,-2,-1,0,1,2,3,4,5,6,7],"labelExpr":"'' + datum.value","labelFontSize":18,"titleFontSize":21,"domainWidth":2.5,"tickWidth":2.5,"tickSize":8,"labelPadding":4,"titlePadding":24,"labelOverlap":false,"labelBound":false}}},
   "layer":[
   {"data":{"name":"dM"},"transform":[{"fold":["V","A","B","C"],"as":["g","p"]}],"mark":{"type":"line","strokeWidth":2.6},
    "encoding":{"color":{"field":"g","type":"nominal","scale":{"domain":["V","A","B","C"],"range":["#000000","#1b9ad6","#f8a01c","#b32515"]}},
     "strokeDash":{"field":"g","type":"nominal","scale":{"domain":["V","A","B","C"],"range":[[2.5,3.5],[1,0],[1,0],[1,0]]}}}},
   {"data":{"values":[{"f":3.46,"f2":10.8,"p":-3,"top":7.08}]},"mark":{"type":"rect","filled":false,"stroke":"#222","strokeWidth":1.3},
    "encoding":{"x2":{"field":"f2"},"y2":{"field":"top"}}},
   {"data":{"name":"dE"},"mark":{"type":"rule","strokeWidth":1.5},
    "encoding":{"y2":{"field":"e"},"color":{"field":"g","type":"nominal","scale":{"domain":["V","A","B","C"],"range":["#000000","#1b9ad6","#f8a01c","#b32515"]}}}},
   {"data":{"values":[{"f":7.05,"p":5.28,"g":"C"},{"f":7.05,"p":4.96,"g":"B"},{"f":7.05,"p":4.67,"g":"A"},{"f":8.08,"p":4.75,"g":"C"},{"f":8.08,"p":4.45,"g":"B"},{"f":8.08,"p":4.13,"g":"A"}]},
    "mark":{"type":"text","text":"*","fontSize":20,"fontWeight":"bold","baseline":"alphabetic","dy":12},
    "encoding":{"color":{"field":"g","type":"nominal","scale":{"domain":["V","A","B","C"],"range":["#000000","#1b9ad6","#f8a01c","#b32515"]}}}},
   {"data":{"values":[{"f":-8.6,"p":9.01,"t":"d"}]},"mark":{"type":"text","fontSize":26,"fontWeight":"bold","align":"left","baseline":"alphabetic"},
    "encoding":{"text":{"field":"t","type":"nominal"}}},
   {"data":{"values":[{"f":28,"p":9.01,"t":"R6/2"},{"f":28,"p":7.97,"t":"Light period"}]},"mark":{"type":"text","fontSize":20,"fontWeight":"bold","align":"center","baseline":"alphabetic"},
    "encoding":{"text":{"field":"t","type":"nominal"}}},
   {"data":{"values":[{"f":2.0,"p":6.9,"t":"d'"},{"f":12.7,"p":6.97,"t":"d'"}]},"mark":{"type":"text","fontSize":21,"fontWeight":"bold","align":"center","baseline":"middle"},
    "encoding":{"text":{"field":"t","type":"nominal"}}}
  ]},
  {"encoding":{"x":{"field":"f","type":"quantitative","scale":{"domain":[3.5,10.5],"range":[143,336],"nice":false,"zero":false},
      "axis":{"orient":"bottom","offset":-123,"title":"Frequency (Hz)","values":[4,5,6,7,8,9,10],"labelExpr":"'' + datum.value","labelFontSize":13,"titleFontSize":14,"domainWidth":2,"tickWidth":2,"tickSize":5,"labelPadding":2,"titlePadding":1,"labelFlush":false,"labelOverlap":false}},
     "y":{"field":"p","type":"quantitative","scale":{"domain":[-1,4],"range":[137,8],"nice":false,"zero":false},
      "axis":{"orient":"left","offset":-143,"title":"REM sleep power (log₂)","values":[-1,0,1,2,3,4],"labelExpr":"'' + datum.value","labelFontSize":13,"titleFontSize":14,"domainWidth":2,"tickWidth":2,"tickSize":5,"labelPadding":2,"titlePadding":3,"labelOverlap":false}}},
   "layer":[
   {"data":{"name":"dI"},"mark":{"type":"line","strokeWidth":1.8},
    "encoding":{"color":{"field":"g","type":"nominal","scale":{"domain":["V","A","B","C"],"range":["#000000","#1b9ad6","#f8a01c","#b32515"]}},
     "strokeDash":{"field":"g","type":"nominal","scale":{"domain":["V","A","B","C"],"range":[[2.5,3.5],[1,0],[1,0],[1,0]]}}}},
   {"data":{"name":"dI"},"mark":{"type":"rule","strokeWidth":1.3},
    "encoding":{"y2":{"field":"e"},"color":{"field":"g","type":"nominal","scale":{"domain":["V","A","B","C"],"range":["#000000","#1b9ad6","#f8a01c","#b32515"]}}}},
   {"data":{"values":[{"f":6.5,"p":3.78,"g":"C"},{"f":7,"p":3.56,"g":"C"}]},
    "mark":{"type":"text","text":"*","fontSize":15,"fontWeight":"bold","baseline":"alphabetic","dy":9},
    "encoding":{"color":{"field":"g","type":"nominal","scale":{"domain":["V","A","B","C"],"range":["#000000","#1b9ad6","#f8a01c","#b32515"]}}}}
  ]}
 ]}
]
}
